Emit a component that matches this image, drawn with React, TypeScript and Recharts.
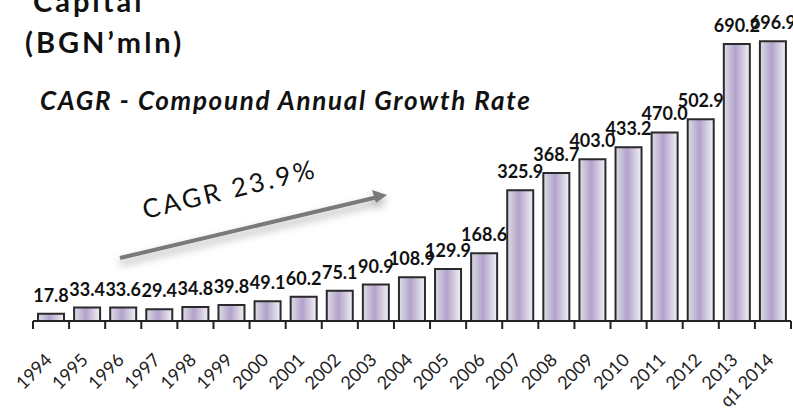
import React from "react";
import { BarChart, Bar, XAxis, YAxis, LabelList } from "recharts";

const years = [
  "1994", "1995", "1996", "1997", "1998", "1999", "2000", "2001", "2002", "2003", "2004",
  "2005", "2006", "2007", "2008", "2009", "2010", "2011", "2012", "2013", "q1 2014",
];
const capital = [
  17.8, 33.4, 33.6, 29.4, 34.8, 39.8, 49.1, 60.2, 75.1, 90.9, 108.9,
  129.9, 168.6, 325.9, 368.7, 403.0, 433.2, 470.0, 502.9, 690.2, 696.9,
];
const yDomain = [0, 800];

const data = years.map((year, i) => ({ year, value: capital[i] }));

const FONT = "Lato, 'Open Sans', sans-serif";

function YearTick(props: any) {
  const { x, y, payload, index, visibleTicksCount } = props;
  const half = payload && payload.offset ? payload.offset : 18.05;
  const isLast = index === visibleTicksCount - 1;
  return (
    <g>
      <line x1={x - half} x2={x - half} y1={y - 8} y2={y} stroke="#222" strokeWidth={2} />
      {isLast && <line x1={x + half} x2={x + half} y1={y - 8} y2={y} stroke="#222" strokeWidth={2} />}
      <text
        x={x + 2}
        y={y + 32}
        transform={`rotate(-45 ${x + 2} ${y + 32})`}
        textAnchor="end"
        fontSize={18}
        fontFamily={FONT}
        fill="#222"
      >
        {payload.value}
      </text>
    </g>
  );
}

export default function App() {
  return (
    <div style={{ position: "absolute", left: 0, top: 0, width: 793, height: 417, background: "#fff" }}>
      <BarChart
        width={793}
        height={417}
        data={data}
        margin={{ top: 0, right: 2, left: 33, bottom: 0 }}
        barCategoryGap={5}
      >
        <defs>
          <linearGradient id="barFill" x1="0" y1="0" x2="1" y2="0">
            <stop offset="0%" stopColor="#dedde5" />
            <stop offset="45%" stopColor="#b2a2cb" />
            <stop offset="100%" stopColor="#f2f2f4" />
          </linearGradient>
        </defs>
        <XAxis
          dataKey="year"
          interval={0}
          height={96}
          tickSize={8}
          tickMargin={0}
          tickLine={false}
          axisLine={{ stroke: "#222", strokeWidth: 2 }}
          tick={<YearTick />}
        />
        <YAxis hide domain={yDomain} />
        <Bar dataKey="value" fill="url(#barFill)" stroke="#2a2a2a" strokeWidth={2} isAnimationActive={false}>
          <LabelList
            dataKey="value"
            position="top"
            offset={12}
            formatter={(v: any) => Number(v).toFixed(1)}
            style={{ fontFamily: FONT, fontWeight: 700, fontSize: 18, fill: "#111" }}
          />
        </Bar>
      </BarChart>
      <svg width={793} height={417} style={{ position: "absolute", left: 0, top: 0, pointerEvents: "none" }}>
        <defs>
          <filter id="shadow" x="-20%" y="-50%" width="140%" height="300%">
            <feDropShadow dx="0" dy="5" stdDeviation="4" floodColor="#000" floodOpacity="0.35" />
          </filter>
        </defs>
        <text x={33} y={12} fontFamily={FONT} fontWeight={700} fontSize={29} fill="#111" letterSpacing={3}>
          Capital<tspan fontSize={16} dy={-12}>1</tspan>
        </text>
        <text x={25} y={53} fontFamily={FONT} fontWeight={700} fontSize={29} fill="#111" letterSpacing={3}>
          (BGN’mln)
        </text>
        <text x={40} y={110} fontFamily={FONT} fontWeight={700} fontStyle="italic" fontSize={26} fill="#111" letterSpacing={1.7}>
          CAGR - Compound Annual Growth Rate
        </text>
        <g filter="url(#shadow)">
          <line x1={120} y1={258} x2={378} y2={197} stroke="#7a7a7a" strokeWidth={4} />
          <path d="M 387 195 L 372 190 L 376 203 Z" fill="#7a7a7a" />
        </g>
        <text
          x={145}
          y={219}
          transform="rotate(-13.5 145 219)"
          fontFamily={FONT}
          fontSize={26}
          fill="#111"
          letterSpacing={3}
        >
          CAGR 23.9%
        </text>
      </svg>
    </div>
  );
}
